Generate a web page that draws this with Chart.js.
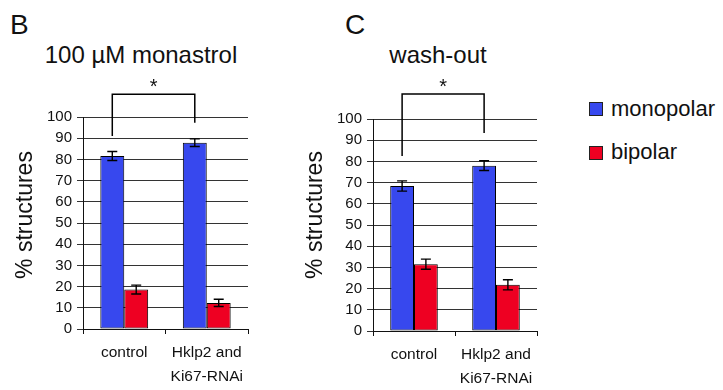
<!DOCTYPE html>
<html>
<head>
<meta charset="utf-8">
<script src="https://cdn.jsdelivr.net/npm/chart.js@4.4.1/dist/chart.umd.min.js"></script>
<style>
  html, body { margin: 0; padding: 0; background: #fff; }
  body { width: 723px; height: 390px; position: relative; overflow: hidden; font-family: "Liberation Sans", Arial, sans-serif; color: #111; }
  canvas { position: absolute; top: 0; }
  .t { position: absolute; line-height: 1; white-space: nowrap; }
  .sw { position: absolute; width: 14px; height: 14px; box-sizing: border-box; border: 1px solid #222; }
</style>
</head>
<body>
<div class="t" style="left:10px;top:11px;font-size:28px;">B</div>
<div class="t" style="left:345px;top:11px;font-size:28px;">C</div>
<div class="t" style="left:41px;top:43px;width:200px;text-align:center;font-size:24px;">100 µM monastrol</div>
<div class="t" style="left:338px;top:43px;width:200px;text-align:center;font-size:24px;">wash-out</div>
<div class="sw" style="left:589px;top:102px;background:#3748EE;"></div>
<div class="t" style="left:611px;top:98px;font-size:22px;">monopolar</div>
<div class="sw" style="left:589px;top:146px;background:#EE0022;"></div>
<div class="t" style="left:611px;top:141px;font-size:22px;">bipolar</div>
<canvas id="cB" width="290" height="390" style="left:0px;"></canvas>
<canvas id="cC" width="260" height="390" style="left:290px;"></canvas>
<script>
// ---- data ----
const categories = ['control', ['Hklp2 and', 'Ki67-RNAi']];
const seriesNames = ['monopolar', 'bipolar'];
const seriesColors = ['#3748EE', '#EE0022'];
const yTitle = '% structures';

const monastrolMonopolar = [81.6, 87.9];
const monastrolBipolar = [18.6, 12.3];
const monastrolMonopolarErr = [2.1, 1.8];
const monastrolBipolarErr = [2.1, 1.7];
// significance bracket: [left leg end, top, right leg end]
const monastrolBracket = [91, 110.7, 97.3];

const washoutMonopolar = [68.4, 78.0];
const washoutBipolar = [31.5, 21.8];
const washoutMonopolarErr = [2.4, 2.3];
const washoutBipolarErr = [2.4, 2.4];
const washoutBracket = [82.6, 111.8, 93.4];

const yMin = 0, yMax = 100, yStep = 10;
const sigLabel = '*';

// ---- plugins ----
const errorBarPlugin = {
  id: 'errorBars',
  afterDatasetsDraw(chart) {
    const ctx = chart.ctx, y = chart.scales.y;
    ctx.save();
    ctx.strokeStyle = '#000';
    ctx.lineWidth = 1.4;
    chart.data.datasets.forEach((ds, i) => {
      const meta = chart.getDatasetMeta(i);
      meta.data.forEach((bar, j) => {
        const e = ds.errors[j];
        const yt = y.getPixelForValue(ds.data[j] + e);
        const yb = y.getPixelForValue(ds.data[j] - e);
        const x = bar.x, hw = 5;
        ctx.beginPath();
        ctx.moveTo(x, yt); ctx.lineTo(x, yb);
        ctx.moveTo(x - hw, yt); ctx.lineTo(x + hw, yt);
        ctx.moveTo(x - hw, yb); ctx.lineTo(x + hw, yb);
        ctx.stroke();
      });
    });
    ctx.restore();
  }
};

const bracketPlugin = {
  id: 'sigBracket',
  afterDatasetsDraw(chart, args, opts) {
    const ctx = chart.ctx, y = chart.scales.y;
    const meta = chart.getDatasetMeta(0);
    const x1 = meta.data[0].x, x2 = meta.data[1].x;
    const b = opts.values;
    const y1 = y.getPixelForValue(b[0]);
    const yt = y.getPixelForValue(b[1]);
    const y2 = y.getPixelForValue(b[2]);
    ctx.save();
    ctx.strokeStyle = '#000';
    ctx.lineWidth = 1.5;
    ctx.beginPath();
    ctx.moveTo(x1, y1); ctx.lineTo(x1, yt); ctx.lineTo(x2, yt); ctx.lineTo(x2, y2);
    ctx.stroke();
    ctx.fillStyle = '#111';
    ctx.font = '20px "Liberation Sans", Arial, sans-serif';
    ctx.textAlign = 'center';
    ctx.textBaseline = 'alphabetic';
    ctx.fillText(opts.label, (x1 + x2) / 2, yt - 1);
    ctx.restore();
  }
};

const yTitlePlugin = {
  id: 'yTitle',
  afterDraw(chart, args, opts) {
    const ctx = chart.ctx;
    ctx.save();
    ctx.translate(opts.x, opts.y);
    ctx.rotate(-Math.PI / 2);
    ctx.fillStyle = '#111';
    ctx.font = '23px "Liberation Sans", Arial, sans-serif';
    ctx.textAlign = 'center';
    ctx.textBaseline = 'middle';
    ctx.fillText(opts.text, 0, 0);
    ctx.restore();
  }
};

Chart.defaults.font.family = '"Liberation Sans", Arial, sans-serif';
Chart.defaults.color = '#111';

function makeChart(id, mono, bi, monoErr, biErr, bracket, pad, xHeight, titleY) {
  return new Chart(document.getElementById(id), {
    type: 'bar',
    data: {
      labels: categories,
      datasets: [
        { label: seriesNames[0], data: mono, errors: monoErr, backgroundColor: seriesColors[0], borderColor: '#000', borderWidth: 1, borderSkipped: false },
        { label: seriesNames[1], data: bi, errors: biErr, backgroundColor: seriesColors[1], borderColor: '#000', borderWidth: 1, borderSkipped: false }
      ]
    },
    options: {
      responsive: false,
      animation: false,
      devicePixelRatio: 1,
      layout: { padding: pad },
      datasets: { bar: { categoryPercentage: 0.58, barPercentage: 1.0 } },
      plugins: {
        legend: { display: false },
        title: { display: false },
        tooltip: { enabled: false },
        sigBracket: { values: bracket, label: sigLabel },
        yTitle: { text: yTitle, x: 25.3, y: titleY }
      },
      scales: {
        x: {
          grid: { display: true, drawOnChartArea: false, drawTicks: true, tickLength: 5, color: '#111', offset: true },
          border: { display: true, color: '#111', width: 1 },
          ticks: { autoSkip: false, maxRotation: 0, minRotation: 0, padding: 7, color: '#111', font: { size: 15.5, lineHeight: 1.55 } },
          afterFit(s) { s.height = xHeight; }
        },
        y: {
          min: yMin, max: yMax,
          ticks: { stepSize: yStep, padding: 5, color: '#111', font: { size: 15 } },
          grid: { color: '#333', lineWidth: 1, drawTicks: true, tickLength: 6 },
          border: { display: true, color: '#111', width: 1 },
          title: { display: false },
          afterFit(s) { s.width = 83; }
        }
      }
    },
    plugins: [errorBarPlugin, bracketPlugin, yTitlePlugin]
  });
}

makeChart('cB', monastrolMonopolar, monastrolBipolar, monastrolMonopolarErr, monastrolBipolarErr, monastrolBracket,
  { top: 117, left: 0, right: 42, bottom: 0 }, 61, 215);
makeChart('cC', washoutMonopolar, washoutBipolar, washoutMonopolarErr, washoutBipolarErr, washoutBracket,
  { top: 119, left: 0, right: 13, bottom: 0 }, 59, 215);
</script>
</body>
</html>
